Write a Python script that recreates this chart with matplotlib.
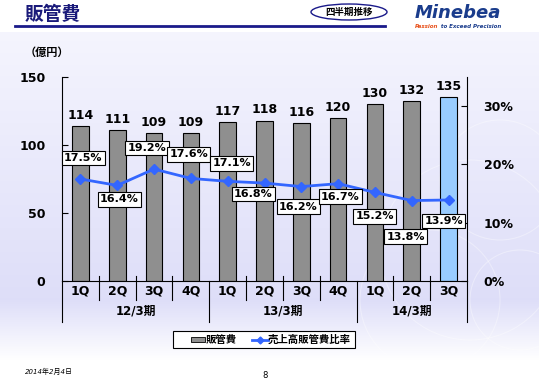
import numpy as np
import matplotlib.pyplot as plt
from matplotlib.patches import Rectangle, Ellipse
from matplotlib.lines import Line2D

plt.rcParams['font.family'] = ['DejaVu Sans', 'Noto Sans CJK JP']

# データ
quarters = ["1Q", "2Q", "3Q", "4Q", "1Q", "2Q", "3Q", "4Q", "1Q", "2Q", "3Q"]
periods = ["12/3期", "13/3期", "14/3期"]
period_sizes = [4, 4, 3]
sga = [114, 111, 109, 109, 117, 118, 116, 120, 130, 132, 135]
ratio = [17.5, 16.4, 19.2, 17.6, 17.1, 16.8, 16.2, 16.7, 15.2, 13.8, 13.9]
# ラベルのずらし (pixels)
label_offsets = [(3, 21), (2, -14), (-7, 21), (-2, 24), (4, 18), (-11, -11),
                 (-3, -20), (2, -13), (0, -24), (-6, -36), (-5, -21)]

W, H = 539, 380
fig = plt.figure(figsize=(W / 100, H / 100), dpi=100)

# 背景グラデーション
bg = fig.add_axes([0, 0, 1, 1])
bg.set_axis_off()
col = np.ones((380, 1, 3))
top = np.array([1.0, 1.0, 1.0])
lav_light = np.array([0.96, 0.96, 0.995])
lav = np.array([0.87, 0.87, 0.975])
for i in range(380):
    py = i + 0.5
    if py < 32:
        c = top
    elif py < 300:
        t = (py - 32) / (300 - 32)
        c = lav_light * (1 - t) + lav * t
    elif py < 360:
        t = (py - 300) / 60
        c = lav * (1 - t) + top * t
    else:
        c = top
    col[i, 0] = c
bg.imshow(col, aspect='auto', extent=[0, W, H, 0])
bg.set_xlim(0, W)
bg.set_ylim(H, 0)

# 装飾の円
for cx, cy, r in [(470, 250, 90), (500, 180, 60), (430, 300, 70), (520, 300, 50)]:
    bg.add_patch(Ellipse((cx, cy), 2 * r, 2 * r, fill=False, ec='white', lw=0.8, alpha=0.35))

# タイトル
bg.text(25, 14, "販管費", fontsize=13.5, fontweight='bold', color='#1a1a7a',
        va='center', ha='left', family=['Noto Sans CJK JP'])
bg.plot([15, 385], [26, 26], color='#1a1a8a', lw=2)
bg.add_patch(Ellipse((349, 12), 76, 16, fill=False, ec='#1a1a8a', lw=1))
bg.text(349, 12, "四半期推移", fontsize=6.8, fontweight='bold', ha='center', va='center',
        family=['Noto Sans CJK JP'], color='black')
bg.text(458, 13, "Minebea", fontsize=13, fontweight='heavy', style='italic',
        color='#1a3c8c', ha='center', va='center')
bg.text(438, 26, "Passion", fontsize=4, fontweight='bold',
        style='italic', color='#e8501a', ha='right', va='center')
bg.text(439, 26, " to Exceed Precision", fontsize=4, fontweight='bold',
        style='italic', color='#1a3c8c', ha='left', va='center')
bg.text(25, 52, "（億円）", fontsize=8, fontweight='bold', ha='left', va='center',
        family=['Noto Sans CJK JP'])
bg.text(25, 371, "2014年2月4日", fontsize=5, style='italic', ha='left', va='center')
bg.text(265, 375, "8", fontsize=6, ha='center', va='center')

# メイン軸
x0, x1, y0, y1 = 62, 467, 281, 77
ax = fig.add_axes([x0 / W, 1 - y0 / H, (x1 - x0) / W, (y0 - y1) / H])
ax.patch.set_alpha(0)
x = np.arange(len(sga))
colors = ['#8f8f8f'] * (len(sga) - 1) + ['#99ccff']
ax.bar(x, sga, width=0.45, color=colors, edgecolor='black', linewidth=0.8, zorder=2)
for xi, v in zip(x, sga):
    ax.text(xi, v + 3, str(v), ha='center', va='bottom', fontsize=9, fontweight='bold')
ax.set_xlim(-0.5, len(sga) - 0.5)
ax.set_ylim(0, 150)
ax.set_yticks([0, 50, 100, 150])
ax.tick_params(axis='y', direction='in', length=4, labelsize=9, width=0.8, pad=12)
for lab in ax.get_yticklabels():
    lab.set_fontweight('bold')
ax.set_xticks([])
ax.spines['top'].set_visible(False)
ax.spines['right'].set_visible(False)
for s in ['left', 'bottom']:
    ax.spines[s].set_linewidth(0.8)

ax2 = ax.twinx()
ax2.set_ylim(0, 35)
ax2.set_yticks([0, 10, 20, 30])
ax2.set_yticklabels(["0%", "10%", "20%", "30%"])
ax2.tick_params(axis='y', direction='in', length=4, labelsize=9, width=0.8, pad=12)
for lab in ax2.get_yticklabels():
    lab.set_fontweight('bold')
ax2.spines['top'].set_visible(False)
ax2.spines['left'].set_visible(False)
ax2.spines['bottom'].set_visible(False)
ax2.spines['right'].set_linewidth(0.8)
ax2.plot(x, ratio, color='#3366ff', lw=2, marker='D', markersize=5, zorder=3)
for xi, v, off in zip(x, ratio, label_offsets):
    ax2.annotate(f"{v:.1f}%", (xi, v), xytext=off, textcoords='offset pixels',
                 ha='center', va='center', fontsize=8, fontweight='bold',
                 bbox=dict(boxstyle='square,pad=0.2', fc='white', ec='black', lw=0.8))

# カテゴリ軸 (2段)
tr = ax.get_xaxis_transform()
for i, q in enumerate(quarters):
    ax.text(i, -0.05, q, transform=tr, ha='center', va='center', fontsize=9,
            fontweight='bold', clip_on=False)
group_edges = np.concatenate([[0], np.cumsum(period_sizes)]) - 0.5
axh = y0 - y1
for b in range(len(quarters) + 1):
    xb = b - 0.5
    if xb in group_edges:
        ax.add_line(Line2D([xb, xb], [0, -41 / axh], transform=tr, color='black',
                           lw=0.8, clip_on=False))
    else:
        ax.add_line(Line2D([xb, xb], [5 / axh, -19 / axh], transform=tr, color='black',
                           lw=0.8, clip_on=False))
for g, name in enumerate(periods):
    xc = (group_edges[g] + group_edges[g + 1]) / 2
    ax.text(xc, -30 / axh, name, transform=tr, ha='center', va='center', fontsize=8.5,
            fontweight='bold', clip_on=False, family=['DejaVu Sans', 'Noto Sans CJK JP'])

# 凡例
bg.add_patch(Rectangle((173, 331), 182, 17, fc='white', ec='black', lw=0.8))
bg.add_patch(Rectangle((191, 336.5), 14, 5, fc='#8f8f8f', ec='black', lw=0.6))
bg.text(206, 339.5, "販管費", fontsize=7.5, fontweight='bold', va='center', ha='left',
        family=['Noto Sans CJK JP'])
bg.plot([252, 268], [339.5, 339.5], color='#3366ff', lw=2)
bg.plot([260], [339.5], marker='D', color='#3366ff', markersize=3.5)
bg.text(268, 339.5, "売上高販管費比率", fontsize=7.5, fontweight='bold', va='center',
        ha='left', family=['Noto Sans CJK JP'])

fig.savefig("out.png", dpi=100)
